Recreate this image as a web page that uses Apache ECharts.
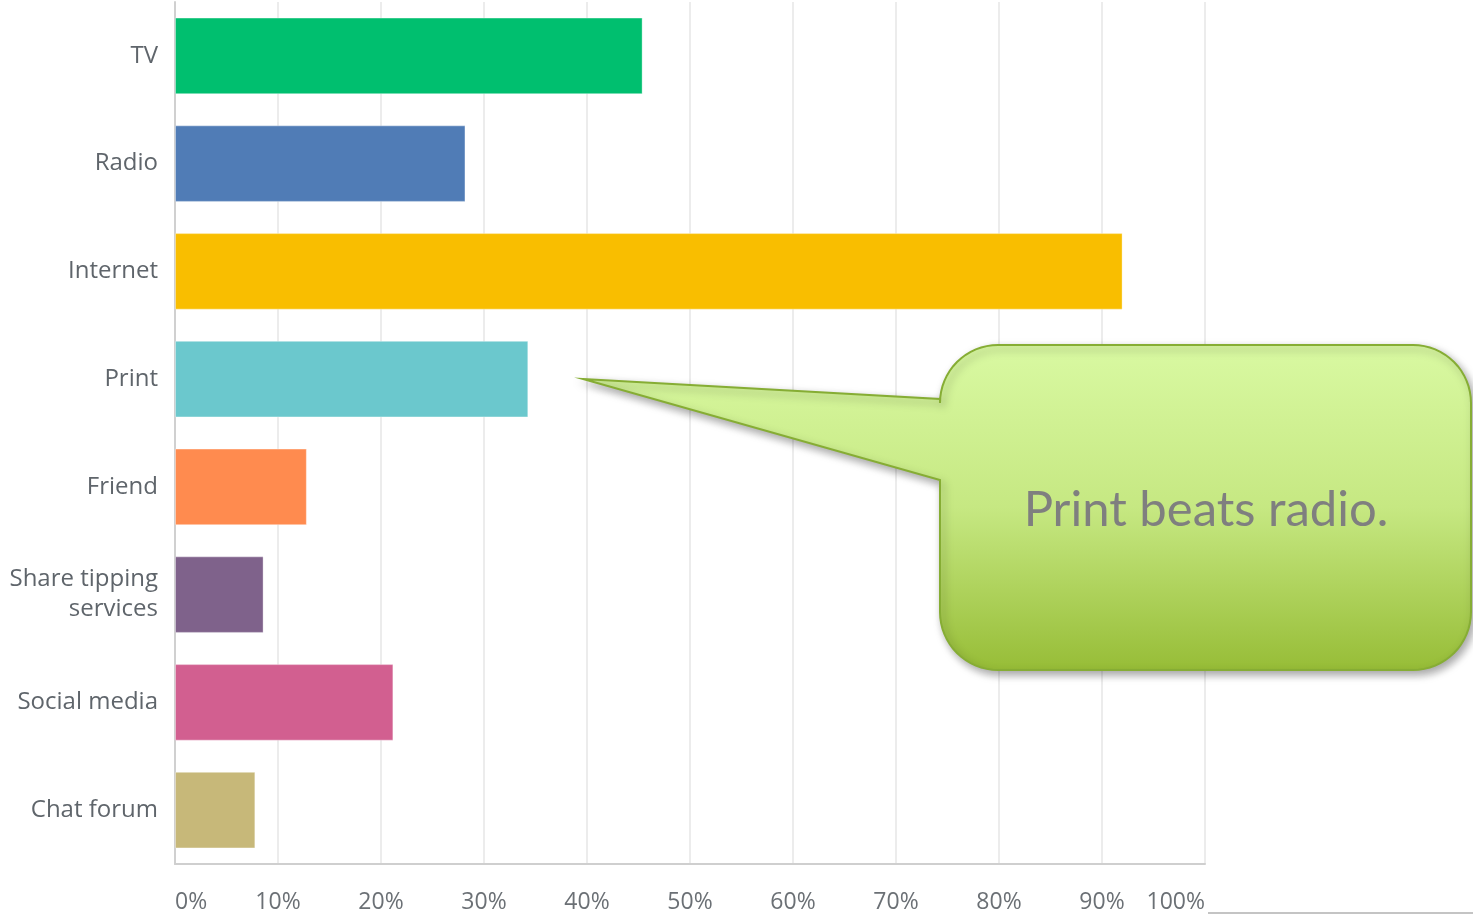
<!DOCTYPE html>
<html>
<head>
<meta charset="utf-8">
<script src="https://cdn.jsdelivr.net/npm/echarts@6/dist/echarts.min.js"></script>
<style>
html,body{margin:0;padding:0;background:#fff;}
#chart{width:1473px;height:915px;}
</style>
</head>
<body>
<div id="chart"></div>
<script>
const categories = ['TV', 'Radio', 'Internet', 'Print', 'Friend', 'Share tipping\nservices', 'Social media', 'Chat forum'];
const values = [45.4, 28.2, 92.0, 34.3, 12.8, 8.6, 21.2, 7.8];
const barColors = ['#00bf6f', '#507cb6', '#f9be00', '#6bc8cd', '#ff8b4f', '#7f628b', '#d25f90', '#c7b879'];
const tickValues = [0, 10, 20, 30, 40, 50, 60, 70, 80, 90, 100];
const calloutText = 'Print beats radio.';

const chart = echarts.init(document.getElementById('chart'));

// Callout shape (annotation) built as polygon with rounded corners
function calloutPoints(x0, y0, x1, y1, r, joinTop, joinBot, tip) {
  const pts = [];
  function arc(cx, cy, a0, a1) {
    const n = 16;
    for (let i = 0; i <= n; i++) {
      const a = a0 + (a1 - a0) * i / n;
      pts.push([cx + r * Math.cos(a), cy + r * Math.sin(a)]);
    }
  }
  pts.push([x0, joinTop]);
  arc(x0 + r, y0 + r, Math.PI, 1.5 * Math.PI);
  arc(x1 - r, y0 + r, 1.5 * Math.PI, 2 * Math.PI);
  arc(x1 - r, y1 - r, 0, 0.5 * Math.PI);
  arc(x0 + r, y1 - r, 0.5 * Math.PI, Math.PI);
  pts.push([x0, joinBot]);
  pts.push(tip);
  return pts;
}
const box = {x0: 940, y0: 345, x1: 1471, y1: 670, r: 58};

const option = {
  animation: false,
  grid: {left: 175, right: 268, top: 2, bottom: 51, containLabel: false},
  xAxis: {
    type: 'value',
    min: 0, max: 100, interval: 10,
    axisLine: {show: true, lineStyle: {color: '#cfcfcf', width: 2}},
    axisTick: {show: false},
    splitLine: {show: true, lineStyle: {color: '#ececec', width: 2}},
    axisLabel: {
      formatter: v => v + '%',
      color: '#6b7075', fontSize: 23, fontFamily: 'Open Sans', margin: 27,
      alignMinLabel: 'left', alignMaxLabel: 'right'
    }
  },
  yAxis: {
    type: 'category',
    data: categories,
    inverse: true,
    axisLine: {show: true, lineStyle: {color: '#d0d0d0', width: 2}},
    axisTick: {show: false},
    axisLabel: {color: '#5f656b', fontSize: 24, fontFamily: 'Open Sans', margin: 17, lineHeight: 30, align: 'right'}
  },
  series: [{
    type: 'bar',
    data: values.map((v, i) => ({value: v, itemStyle: {color: barColors[i]}})),
    barCategoryGap: '29%',
    itemStyle: {borderColor: 'rgba(255,255,255,0.35)', borderWidth: 1}
  }],
  graphic: [
    {
      type: 'polygon',
      z: 100,
      shape: {points: calloutPoints(box.x0, box.y0, box.x1, box.y1, box.r, 399, 480, [583, 379])},
      style: {
        fill: new echarts.graphic.LinearGradient(0, box.y0, 0, box.y1, [
          {offset: 0, color: '#d9f9a2'},
          {offset: 0.5, color: '#c6e882'},
          {offset: 1, color: '#97bd37'}
        ], true),
        stroke: '#86ad34',
        lineWidth: 2,
        shadowBlur: 8,
        shadowOffsetX: 3,
        shadowOffsetY: 4,
        shadowColor: 'rgba(0,0,0,0.35)'
      }
    },
    {
      type: 'text',
      z: 101,
      x: 1206, y: 510,
      style: {
        text: calloutText,
        fill: '#7f7f7f',
        font: '49px Lato',
        textAlign: 'center',
        textVerticalAlign: 'middle'
      }
    },
    {
      type: 'line',
      z: 50,
      shape: {x1: 1208, y1: 913, x2: 1473, y2: 913},
      style: {stroke: '#c4c4c4', lineWidth: 2}
    }
  ]
};
chart.setOption(option);
</script>
</body>
</html>
